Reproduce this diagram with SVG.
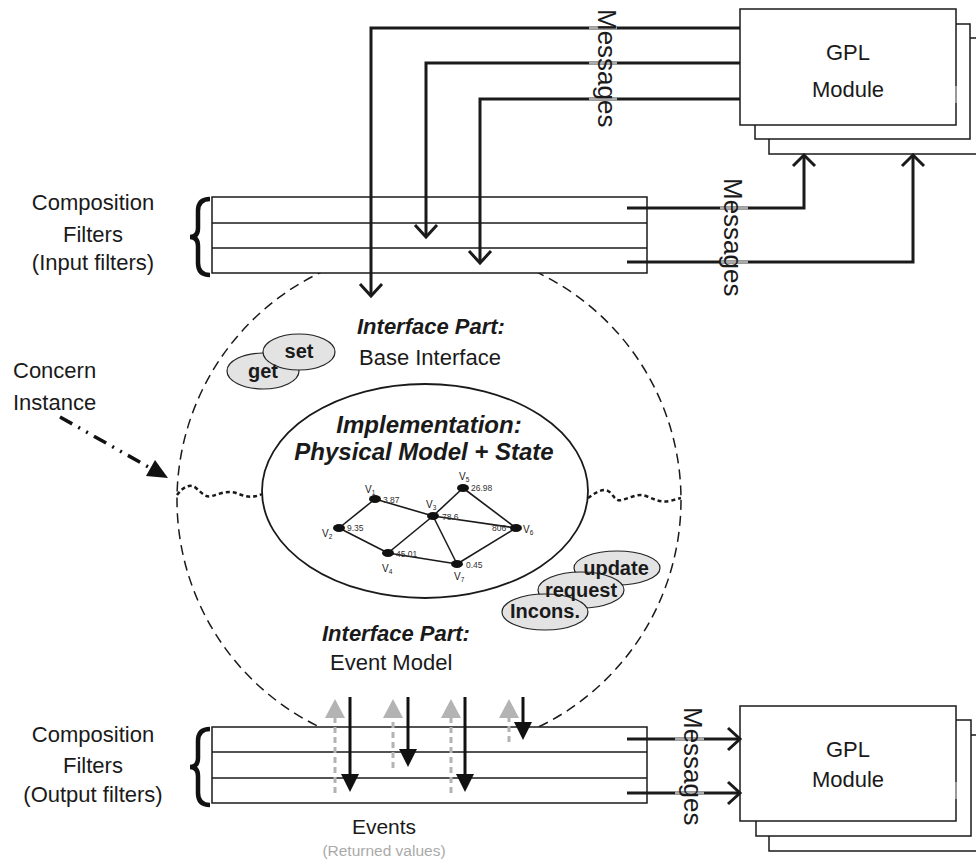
<svg xmlns="http://www.w3.org/2000/svg" width="976" height="868" viewBox="0 0 976 868">
<style>
.t{font-family:"Liberation Sans",Arial,Helvetica,sans-serif;fill:#1a1a1a}
.lbl{font-size:22px}
.bi{font-weight:bold;font-style:italic}
.b{font-weight:bold}
.msg{stroke:#1a1a1a;stroke-width:3;fill:none}
.box{fill:#fff;stroke:#1a1a1a;stroke-width:1.5}
.chev{fill:none;stroke:#1a1a1a;stroke-width:3}
.gseg{stroke:#aaa;stroke-width:3}
.pill{fill:#e3e3e3;stroke:#222;stroke-width:1.2}
.edge{stroke:#1a1a1a;stroke-width:1.6}
.vl{font-size:10px}
.val{font-size:8.5px;fill:#333}
.wave{fill:none;stroke:#1a1a1a;stroke-width:2.5;stroke-dasharray:4 3}
.brace{fill:none;stroke:#111;stroke-width:4.5}
</style>

<!-- concern instance boundary -->
<g id="concern-instance">
  <circle cx="429" cy="500" r="252" fill="none" stroke="#1a1a1a" stroke-width="1.5" stroke-dasharray="10 6"/>
  <path class="wave" d="M177 495 C183 487,190 483,196 488 S205 498,212 496 S228 490,236 493 S252 499,262 494"/>
  <path class="wave" d="M588 498 C595 493,602 488,608 491 S614 502,622 500 S638 493,646 496 S660 503,670 501 L681 498"/>
</g>

<!-- GPL module top -->
<g id="gpl-top">
  <rect class="box" x="769" y="38" width="215" height="116"/>
  <rect class="box" x="755" y="24" width="215" height="115"/>
  <rect class="box" x="740" y="9" width="216" height="116"/>
  <line x1="956" y1="86" x2="956" y2="103" stroke="#999" stroke-width="2"/>
  <text class="t" x="848" y="60" font-size="22" text-anchor="middle">GPL</text>
  <text class="t" x="848" y="97" font-size="22" text-anchor="middle">Module</text>
</g>

<!-- GPL module bottom -->
<g id="gpl-bottom">
  <rect class="box" x="769" y="735" width="215" height="116"/>
  <rect class="box" x="756" y="720" width="215" height="116"/>
  <rect class="box" x="740" y="706" width="216" height="115"/>
  <line x1="956" y1="782" x2="956" y2="799" stroke="#999" stroke-width="2"/>
  <text class="t" x="848" y="757" font-size="22" text-anchor="middle">GPL</text>
  <text class="t" x="848" y="787" font-size="22" text-anchor="middle">Module</text>
</g>

<!-- input filters -->
<g id="input-filters">
  <rect class="box" x="212" y="197" width="435" height="76"/>
  <line x1="212" y1="223" x2="647" y2="223" stroke="#1a1a1a" stroke-width="1.5"/>
  <line x1="212" y1="248" x2="647" y2="248" stroke="#1a1a1a" stroke-width="1.5"/>
  <path class="brace" d="M210 199 Q198 199 198 211 L198 228 Q198 237 190 237 Q198 237 198 246 L198 263 Q198 275 210 275"/>
  <text class="t lbl" x="93" y="210" text-anchor="middle">Composition</text>
  <text class="t lbl" x="93" y="242" text-anchor="middle">Filters</text>
  <text class="t lbl" x="93" y="270" text-anchor="middle">(Input filters)</text>
</g>

<!-- output filters -->
<g id="output-filters">
  <rect class="box" x="212" y="727" width="435" height="76"/>
  <line x1="212" y1="752" x2="647" y2="752" stroke="#1a1a1a" stroke-width="1.5"/>
  <line x1="212" y1="778" x2="647" y2="778" stroke="#1a1a1a" stroke-width="1.5"/>
  <path class="brace" d="M210 729 Q198 729 198 741 L198 758 Q198 767 190 767 Q198 767 198 776 L198 793 Q198 805 210 805"/>
  <text class="t lbl" x="93" y="742" text-anchor="middle">Composition</text>
  <text class="t lbl" x="93" y="773" text-anchor="middle">Filters</text>
  <text class="t lbl" x="93" y="802" text-anchor="middle">(Output filters)</text>
</g>

<!-- interface parts -->
<g id="interface-base">
  <text class="t lbl bi" x="357" y="334">Interface Part:</text>
  <text class="t lbl" x="359" y="365">Base Interface</text>
  <ellipse class="pill" cx="263" cy="371" rx="36" ry="18"/>
  <ellipse class="pill" cx="299" cy="352" rx="36" ry="18"/>
  <text class="t b" x="263" y="378" font-size="20" text-anchor="middle">get</text>
  <text class="t b" x="299" y="358" font-size="20" text-anchor="middle">set</text>
</g>

<g id="interface-event">
  <text class="t lbl bi" x="322" y="641">Interface Part:</text>
  <text class="t lbl" x="330" y="670">Event Model</text>
  <ellipse class="pill" cx="617" cy="568" rx="43" ry="17"/>
  <ellipse class="pill" cx="581" cy="590" rx="43" ry="18"/>
  <ellipse class="pill" cx="545" cy="612" rx="43" ry="18"/>
  <text class="t b" x="616" y="575" font-size="20" text-anchor="middle">update</text>
  <text class="t b" x="581" y="597" font-size="20" text-anchor="middle">request</text>
  <text class="t b" x="545" y="618" font-size="20" text-anchor="middle">Incons.</text>
</g>

<!-- implementation -->
<g id="implementation">
  <ellipse cx="425" cy="491" rx="163" ry="107" fill="none" stroke="#1a1a1a" stroke-width="1.8"/>
  <text class="t bi" x="429" y="433" font-size="24" text-anchor="middle">Implementation:</text>
  <text class="t bi" x="424" y="460" font-size="24" text-anchor="middle">Physical Model + State</text>
  <line class="edge" x1="375" y1="499" x2="339" y2="528"/>
  <line class="edge" x1="375" y1="499" x2="433" y2="516"/>
  <line class="edge" x1="339" y1="528" x2="388" y2="553"/>
  <line class="edge" x1="433" y1="516" x2="388" y2="553"/>
  <line class="edge" x1="433" y1="516" x2="463" y2="488"/>
  <line class="edge" x1="433" y1="516" x2="457" y2="564"/>
  <line class="edge" x1="433" y1="516" x2="516" y2="528"/>
  <line class="edge" x1="463" y1="488" x2="516" y2="528"/>
  <line class="edge" x1="388" y1="553" x2="457" y2="564"/>
  <line class="edge" x1="457" y1="564" x2="516" y2="528"/>
  <g fill="#111">
    <ellipse cx="375" cy="499" rx="6" ry="4"/>
    <ellipse cx="339" cy="528" rx="6" ry="4"/>
    <ellipse cx="433" cy="516" rx="6" ry="4"/>
    <ellipse cx="388" cy="553" rx="6" ry="4"/>
    <ellipse cx="463" cy="488" rx="6" ry="4"/>
    <ellipse cx="516" cy="528" rx="6" ry="4"/>
    <ellipse cx="457" cy="564" rx="6" ry="4"/>
  </g>
  <text class="t vl" x="365" y="493">V<tspan font-size="6.5" dy="2">1</tspan></text>
  <text class="t vl" x="322" y="537">V<tspan font-size="6.5" dy="2">2</tspan></text>
  <text class="t vl" x="426" y="508">V<tspan font-size="6.5" dy="2">3</tspan></text>
  <text class="t vl" x="382" y="572">V<tspan font-size="6.5" dy="2">4</tspan></text>
  <text class="t vl" x="459" y="480">V<tspan font-size="6.5" dy="2">5</tspan></text>
  <text class="t vl" x="523" y="533">V<tspan font-size="6.5" dy="2">6</tspan></text>
  <text class="t vl" x="454" y="580">V<tspan font-size="6.5" dy="2">7</tspan></text>
  <text class="t val" x="383" y="503">3.87</text>
  <text class="t val" x="347" y="531">9.35</text>
  <text class="t val" x="442" y="520">78.6</text>
  <text class="t val" x="471" y="491">26.98</text>
  <text class="t val" x="492" y="531">806</text>
  <text class="t val" x="396" y="557">45.01</text>
  <text class="t val" x="466" y="568">0.45</text>
</g>

<!-- labels -->
<g id="concern-label">
  <text class="t lbl" x="13" y="378">Concern</text>
  <text class="t lbl" x="13" y="410">Instance</text>
</g>
<g id="events-label">
  <text class="t" x="384" y="834" font-size="21" text-anchor="middle">Events</text>
  <text class="t" x="384" y="856" font-size="15.5" text-anchor="middle" style="fill:#aaa">(Returned values)</text>
</g>

<!-- connectors -->
<g id="connectors">
  <!-- messages from top module into input filters -->
  <polyline class="msg" points="740,28 371,28 371,294"/>
  <polyline class="chev" points="360,284 371,296 382,284"/>
  <polyline class="msg" points="740,63 426,63 426,235"/>
  <polyline class="chev" points="415,225 426,237 437,225"/>
  <polyline class="msg" points="740,99 480,99 480,261"/>
  <polyline class="chev" points="469,251 480,263 491,251"/>
  <line class="gseg" x1="589" y1="28" x2="617" y2="28"/>
  <line class="gseg" x1="589" y1="63" x2="617" y2="63"/>
  <line class="gseg" x1="589" y1="99" x2="617" y2="99"/>
  <text class="t" transform="translate(598,9) rotate(90)" font-size="26">Messages</text>

  <!-- input filters out to top module -->
  <polyline class="msg" points="627,208 804,208 804,157"/>
  <polyline class="chev" points="793,166 804,155 815,166"/>
  <polyline class="msg" points="627,262 913,262 913,157"/>
  <polyline class="chev" points="902,166 913,155 924,166"/>
  <line class="gseg" x1="720" y1="208" x2="748" y2="208"/>
  <line class="gseg" x1="720" y1="262" x2="748" y2="262"/>
  <text class="t" transform="translate(724,178) rotate(90)" font-size="26">Messages</text>

  <!-- output filters to bottom module -->
  <line class="msg" x1="627" y1="739" x2="738" y2="739"/>
  <polyline class="chev" points="728,728 740,739 728,750"/>
  <line class="msg" x1="627" y1="793" x2="738" y2="793"/>
  <polyline class="chev" points="728,782 740,793 728,804"/>
  <line class="gseg" x1="675" y1="739" x2="704" y2="739"/>
  <line class="gseg" x1="675" y1="793" x2="704" y2="793"/>
  <text class="t" transform="translate(684,707) rotate(90)" font-size="26">Messages</text>

  <!-- events (grey dashed up arrows) -->
  <g stroke="#b3b3b3" stroke-width="3" stroke-dasharray="6 4" fill="none">
    <line x1="335" y1="793" x2="335" y2="716"/>
    <line x1="393" y1="768" x2="393" y2="716"/>
    <line x1="451" y1="793" x2="451" y2="716"/>
    <line x1="509" y1="742" x2="509" y2="716"/>
  </g>
  <g fill="#b3b3b3">
    <polygon points="325,718 335,699 345,718"/>
    <polygon points="383,718 393,699 403,718"/>
    <polygon points="441,718 451,699 461,718"/>
    <polygon points="499,718 509,699 519,718"/>
  </g>
  <!-- black down arrows -->
  <g stroke="#111" stroke-width="3">
    <line x1="350" y1="697" x2="350" y2="778"/>
    <line x1="408" y1="697" x2="408" y2="753"/>
    <line x1="465" y1="697" x2="465" y2="778"/>
    <line x1="523" y1="697" x2="523" y2="726"/>
  </g>
  <g fill="#111">
    <polygon points="341,774 350,792 359,774"/>
    <polygon points="399,749 408,767 417,749"/>
    <polygon points="456,774 465,792 474,774"/>
    <polygon points="514,722 523,740 532,722"/>
  </g>

  <!-- concern instance pointer -->
  <line x1="60" y1="417" x2="152" y2="469" stroke="#111" stroke-width="3.5" stroke-dasharray="14 7 2 7 2 7"/>
  <polygon points="168,478 146,476 155,460" fill="#111"/>
</g>
</svg>
